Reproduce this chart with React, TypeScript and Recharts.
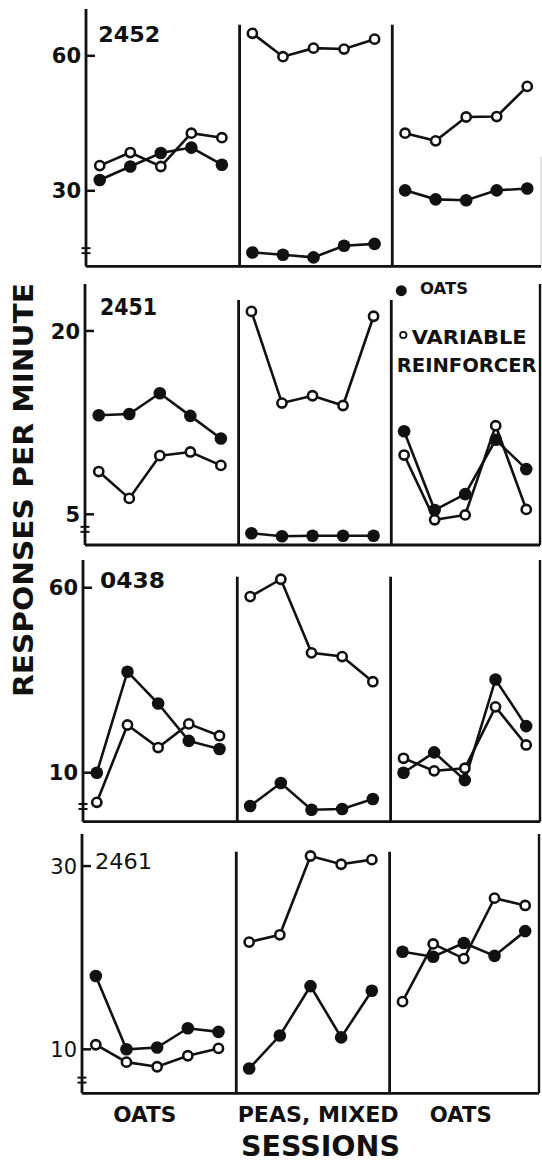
import React from 'react';
import { LineChart, Line, XAxis, YAxis, ReferenceLine, Legend } from 'recharts';

// ---------- data ----------
const sessions = [1, 2, 3, 4, 5, 6, 7, 8, 9, 10, 11, 12, 13, 14, 15];
const conditions = ['OATS', 'PEAS, MIXED', 'OATS'];
const conditionTicks = [2.6, 8.25, 12.9];
const panelDividers = [5.58, 10.58];
const sessionDomain: [number, number] = [0.55, 15.45];
const subjects = ['2452', '2451', '0438', '2461'];
const xTitle = 'SESSIONS';
const yTitle = 'RESPONSES PER MINUTE';
const legendLabels = ['OATS', 'VARIABLE', 'REINFORCER'];

const oats2452 = [32.4, 35.4, 38.4, 39.6, 35.8, 16.3, 15.8, 15.2, 17.8, 18.2, 30.1, 28.1, 27.9, 30.1, 30.5];
const variable2452 = [35.6, 38.5, 35.4, 42.8, 41.8, 65.0, 59.8, 61.7, 61.5, 63.7, 42.8, 41.1, 46.4, 46.5, 53.2];
const ticks2452 = [30, 60];
const domain2452: [number, number] = [13.2, 70.4];
const break2452 = 16.7;

const oats2451 = [13.1, 13.2, 14.9, 13.05, 11.2, 3.45, 3.2, 3.25, 3.25, 3.25, 11.8, 5.35, 6.65, 11.1, 8.7];
const variable2451 = [8.5, 6.3, 9.8, 10.1, 9.0, 21.6, 14.1, 14.7, 13.9, 21.2, 9.85, 4.55, 4.95, 12.25, 5.4];
const ticks2451 = [5, 20];
const domain2451: [number, number] = [2.49, 23.84];
const break2451 = 3.77;

const oats0438 = [10.0, 37.3, 28.7, 18.6, 16.4, 1.0, 7.2, 0.0, 0.2, 2.9, 10.0, 15.5, 8.0, 35.2, 22.6];
const variable0438 = [2.0, 22.9, 16.8, 23.2, 20.0, 57.6, 62.3, 42.4, 41.4, 34.6, 13.9, 10.5, 11.2, 27.8, 17.5];
const ticks0438 = [10, 60];
const domain0438: [number, number] = [-3.24, 67.5];
const break0438 = 0.86;

const oats2461 = [18.0, 10.0, 10.2, 12.3, 11.9, 7.9, 11.5, 16.9, 11.3, 16.4, 20.65, 20.1, 21.6, 20.2, 22.9];
const variable2461 = [10.5, 8.6, 8.1, 9.3, 10.1, 21.7, 22.5, 31.1, 30.2, 30.7, 15.2, 21.5, 19.9, 26.5, 25.7];
const ticks2461 = [10, 30];
const domain2461: [number, number] = [5.2, 33.5];
const break2461 = 6.64;

const rows = [
  { subject: subjects[0], oats: oats2452, variable: variable2452, ticks: ticks2452, domain: domain2452, brk: break2452 },
  { subject: subjects[1], oats: oats2451, variable: variable2451, ticks: ticks2451, domain: domain2451, brk: break2451 },
  { subject: subjects[2], oats: oats0438, variable: variable0438, ticks: ticks0438, domain: domain0438, brk: break0438 },
  { subject: subjects[3], oats: oats2461, variable: variable2461, ticks: ticks2461, domain: domain2461, brk: break2461 },
];

// ---------- layout / style ----------
const INK = '#111';
const FONT = "'DejaVu Sans', 'Liberation Sans', sans-serif";
const layout = [
  { top: 9.3, bottom: 266.7, left: 86, right: 541, sepTop: 25, weight: 'bold', edge: 'faint' },
  { top: 284, bottom: 545, left: 85, right: 540, sepTop: 300, weight: 'bold', edge: 'solid' },
  { top: 560, bottom: 821.7, left: 83, right: 540, sepTop: 576.7, weight: 'bold', edge: 'solid' },
  { top: 834, bottom: 1093.3, left: 82, right: 539, sepTop: 851.7, weight: 'normal', edge: 'solid' },
];
const titleText = [
  { x: 98.3, y: 41.7, len: 62, size: 22, weight: 'bold' },
  { x: 100, y: 314.5, len: 57, size: 23, weight: 'bold' },
  { x: 100, y: 588, len: 65, size: 21, weight: 'bold' },
  { x: 95, y: 869, len: 57, size: 22, weight: 'normal' },
];

const panelPoints = (values: number[], p: number) =>
  sessions.slice(p * 5, p * 5 + 5).map((s, i) => ({ session: s, value: values[p * 5 + i] }));

const makeYTick = (brk: number, weight: string) => (props: any) => {
  const { x, y, payload } = props;
  if (payload.value === brk) {
    return (
      <g>
        <line x1={x - 4.5} x2={x + 4.5} y1={y - 2.5} y2={y - 2.5} stroke={INK} strokeWidth={2} />
        <line x1={x - 4.5} x2={x + 4.5} y1={y + 2.5} y2={y + 2.5} stroke={INK} strokeWidth={2} />
      </g>
    );
  }
  return (
    <g>
      <line x1={x} x2={x + 9} y1={y} y2={y} stroke={INK} strokeWidth={2.5} />
      <text x={x - 5} y={y} dy="0.36em" textAnchor="end" fontFamily={FONT} fontWeight={weight} fontSize={21} fill={INK}>
        {payload.value}
      </text>
    </g>
  );
};

const renderConditionTick = (props: any) => {
  const { x, y, payload } = props;
  const i = conditionTicks.indexOf(payload.value);
  const lens = [63, 161, 62];
  return (
    <text x={x} y={y + 20.7} dy="0.36em" textAnchor="middle" fontFamily={FONT} fontWeight="bold" fontSize={21}
      fill={INK} textLength={lens[i]} lengthAdjust="spacingAndGlyphs">
      {conditions[i]}
    </text>
  );
};

const renderSessionsLabel = (props: any) => {
  const vb = props.viewBox || { x: 82, y: 1093.3 - 824 };
  return (
    <text x={vb.x + (320.5 - 82)} y={vb.y + 52.7} dy="0.36em" textAnchor="middle" fontFamily={FONT}
      fontWeight="bold" fontSize={29} fill={INK} textLength={159} lengthAdjust="spacingAndGlyphs">
      {xTitle}
    </text>
  );
};

const renderLegend = () => (
  <svg width={152} height={110} style={{ display: 'block', overflow: 'visible' }}>
    <circle cx={11.3} cy={16.7} r={5.5} fill={INK} />
    <text x={30} y={20} fontFamily={FONT} fontWeight="bold" fontSize={16.5} fill={INK} textLength={48} lengthAdjust="spacingAndGlyphs">
      {legendLabels[0]}
    </text>
    <circle cx={13.3} cy={61} r={3.2} fill="#fff" stroke={INK} strokeWidth={1.8} />
    <text x={21.7} y={69.8} fontFamily={FONT} fontWeight="bold" fontSize={20} fill={INK} textLength={115} lengthAdjust="spacingAndGlyphs">
      {legendLabels[1]}
    </text>
    <text x={6.7} y={97.6} fontFamily={FONT} fontWeight="bold" fontSize={19.5} fill={INK} textLength={140} lengthAdjust="spacingAndGlyphs">
      {legendLabels[2]}
    </text>
  </svg>
);

function Row({ index }: { index: number }) {
  const row = rows[index];
  const lay = layout[index];
  const isLast = index === rows.length - 1;
  const mTop = 10;
  const xh = isLast ? 70 : 2;
  const plotH = lay.bottom - lay.top;
  const height = mTop + plotH + xh;
  const [d0, d1] = row.domain;
  const sepTopVal = d1 - ((d1 - d0) * (lay.sepTop - lay.top)) / plotH;
  const faintTopVal = d1 - ((d1 - d0) * (157 - lay.top)) / plotH;

  return (
    <div style={{ position: 'absolute', left: 0, top: lay.top - mTop }}>
      <LineChart width={542} height={height} margin={{ top: mTop, right: 542 - lay.right, left: 0, bottom: 0 }}>
        <XAxis
          type="number"
          dataKey="session"
          domain={sessionDomain}
          allowDataOverflow
          ticks={isLast ? conditionTicks : []}
          interval={0}
          tick={isLast ? renderConditionTick : false}
          tickLine={false}
          tickSize={0}
          tickMargin={0}
          height={xh}
          axisLine={{ stroke: INK, strokeWidth: 2.8 }}
          label={isLast ? renderSessionsLabel : undefined}
        />
        <YAxis
          type="number"
          domain={row.domain}
          allowDataOverflow
          ticks={[row.brk, ...row.ticks]}
          interval={0}
          width={lay.left}
          tick={makeYTick(row.brk, lay.weight)}
          tickLine={false}
          tickSize={0}
          tickMargin={0}
          axisLine={{ stroke: INK, strokeWidth: 2.8 }}
        />
        {panelDividers.map((d) => (
          <ReferenceLine
            key={'sep' + d}
            segment={[{ x: d, y: d0 }, { x: d, y: sepTopVal }]}
            stroke={INK}
            strokeWidth={2.8}
          />
        ))}
        {lay.edge === 'solid' ? (
          <ReferenceLine x={sessionDomain[1]} stroke={INK} strokeWidth={2.4} />
        ) : (
          <ReferenceLine segment={[{ x: sessionDomain[1], y: d0 }, { x: sessionDomain[1], y: faintTopVal }]} stroke="#c8c8c8" strokeWidth={1} />
        )}
        {[0, 1, 2].map((p) => (
          <Line
            key={'o' + p}
            data={panelPoints(row.oats, p)}
            dataKey="value"
            type="linear"
            stroke={INK}
            strokeWidth={2.6}
            dot={{ r: 6.3, fill: INK, stroke: INK, strokeWidth: 0 }}
            activeDot={false}
            isAnimationActive={false}
          />
        ))}
        {[0, 1, 2].map((p) => (
          <Line
            key={'v' + p}
            data={panelPoints(row.variable, p)}
            dataKey="value"
            type="linear"
            stroke={INK}
            strokeWidth={2.6}
            dot={{ r: 4.6, fill: '#fff', stroke: INK, strokeWidth: 2.6 }}
            activeDot={false}
            isAnimationActive={false}
          />
        ))}
        {index === 1 ? (
          <Legend
            layout="horizontal"
            verticalAlign="middle"
            align="center"
            wrapperStyle={{ left: 390, top: 0, width: 152, height: 110 }}
            content={renderLegend}
          />
        ) : null}
      </LineChart>
    </div>
  );
}

export default function App() {
  return (
    <div style={{ position: 'absolute', left: 0, top: 0, width: 542, height: 1164, overflow: 'hidden', background: '#fff' }}>
      {rows.map((_, i) => (
        <Row key={i} index={i} />
      ))}
      <svg width={542} height={1164} style={{ position: 'absolute', left: 0, top: 0, pointerEvents: 'none' }}>
        <text
          transform="translate(23.3,490) rotate(-90)"
          x={0}
          y={0}
          dy="0.36em"
          textAnchor="middle"
          fontFamily={FONT}
          fontWeight="bold"
          fontSize={27}
          fill={INK}
          textLength={414}
          lengthAdjust="spacingAndGlyphs"
        >
          {yTitle}
        </text>
        {rows.map((r, i) => (
          <text
            key={'t' + i}
            x={titleText[i].x}
            y={titleText[i].y}
            fontFamily={FONT}
            fontWeight={titleText[i].weight}
            fontSize={titleText[i].size}
            fill={INK}
            textLength={titleText[i].len}
            lengthAdjust="spacingAndGlyphs"
          >
            {r.subject}
          </text>
        ))}
      </svg>
    </div>
  );
}
